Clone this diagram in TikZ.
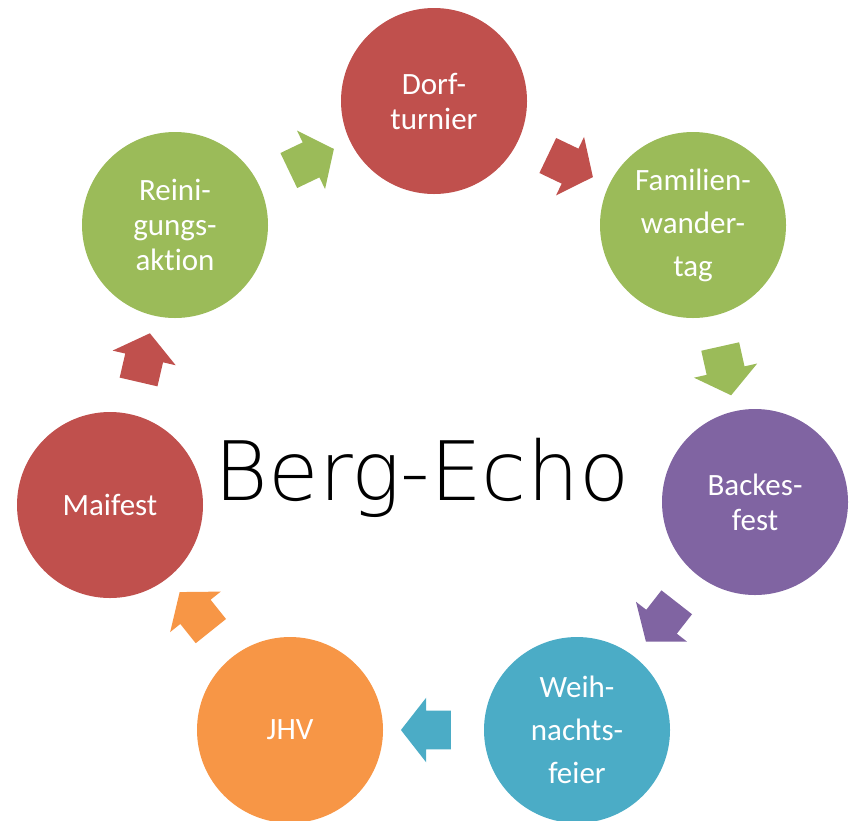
\documentclass[tikz,border=0pt]{standalone}
\usepackage{fontspec}
\setmainfont{Carlito}[Ligatures=NoCommon]
\newfontfamily\handfont{DejaVu Sans ExtraLight}
\usetikzlibrary{shapes.arrows, calc}
\definecolor{ofred}{HTML}{C0504D}
\definecolor{ofgreen}{HTML}{9BBB59}
\definecolor{ofpurple}{HTML}{8064A2}
\definecolor{ofteal}{HTML}{4BACC6}
\definecolor{oforange}{HTML}{F79646}

\begin{document}
\begin{tikzpicture}[x=0.5pt, y=-0.5pt,
	event/.style={circle, minimum size=93pt, inner sep=0pt, text=white, align=center,
		font=\fontsize{15.5}{17.5}\selectfont},
	wide/.style={font=\fontsize{15.5}{21.5}\selectfont},
	flow/.style={single arrow, sloped, allow upside down, minimum height=25pt, minimum width=32pt,
		inner xsep=0pt, inner ysep=9.5pt, single arrow head extend=6.5pt, single arrow tip angle=104}]
	\useasboundingbox (0, 0) rectangle (854, 820);
	% the year, clockwise from the top
	\node[event, fill=ofred] (dorf) at (434, 101) {Dorf-\\turnier};
	\node[event, wide, fill=ofgreen] (wander) at (693, 225) {Familien-\\wander-\\tag};
	\node[event, fill=ofpurple] (backes) at (755, 502) {Backes-\\fest};
	\node[event, wide, fill=ofteal] (weih) at (577, 730) {Weih-\\nachts-\\feier};
	\node[event, fill=oforange] (jhv) at (290, 730) {JHV};
	\node[event, fill=ofred] (mai) at (110, 505) {Maifest};
	\node[event, fill=ofgreen] (rein) at (175, 225) {Reini-\\gungs-\\aktion};
	\foreach \a/\b/\c in {rein/dorf/ofgreen, dorf/wander/ofred, wander/backes/ofgreen,
		backes/weih/ofpurple, weih/jhv/ofteal, jhv/mai/oforange, mai/rein/ofred}
		\path (\a) -- node[flow, fill=\c] {} (\b);
	\node[anchor=base, font=\handfont\fontsize{41}{41}\selectfont] (title) at (422, 500) {Berg-Echo};
\end{tikzpicture}
\end{document}
